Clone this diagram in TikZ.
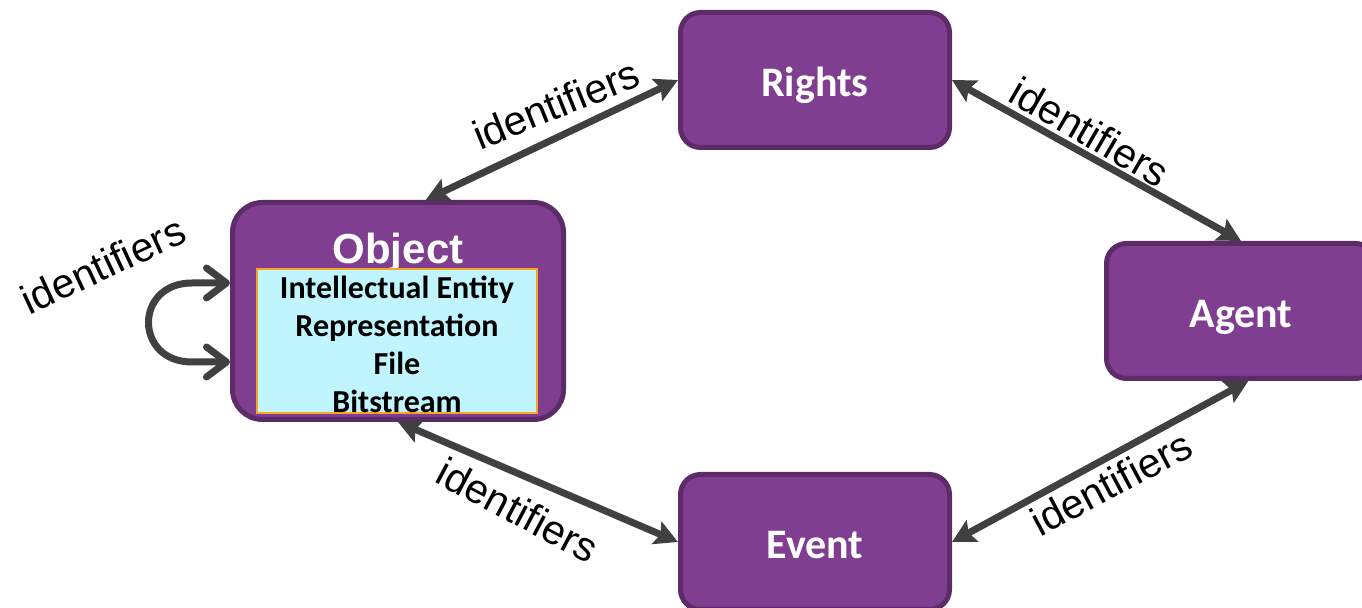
\documentclass[tikz,border=0pt]{standalone}
\usepackage{fontspec}
\setmainfont{Liberation Sans}
\newfontfamily\carlito{Carlito}
\usetikzlibrary{arrows.meta}
\definecolor{boxfill}{RGB}{128,62,145}
\definecolor{boxedge}{RGB}{93,43,103}
\definecolor{linkgray}{RGB}{64,64,64}
\definecolor{innerfill}{RGB}{192,245,253}
\definecolor{inneredge}{RGB}{245,166,35}
\tikzset{
  entity/.style={draw=boxedge, fill=boxfill, line width=2.5pt, rounded corners=10pt,
    minimum width=134.5pt, minimum height=67.5pt, inner sep=0pt, text=white,
    text height=16.5pt, text depth=0pt,
    font=\carlito\bfseries\fontsize{21}{25}\selectfont},
  headtip/.tip={Stealth[length=11.5pt,width=12pt,inset=2pt]},
  barbtip/.tip={Straight Barb[length=10pt,width=15pt,round]},
  link/.style={draw=linkgray, line width=3.5pt, headtip-headtip},
  selflink/.style={draw=linkgray, line width=3.5pt, line cap=round, barbtip-barbtip},
  idlabel/.style={font=\fontsize{20.5}{24}\selectfont, inner sep=0pt}
}
\begin{document}
\begin{tikzpicture}[x=0.5pt, y=-0.5pt]
  \useasboundingbox (0,0) rectangle (1362,608);
  \clip (0,0) rectangle (1362,608);

  % entity boxes
  \node[entity] (rights) at (815,80) {Rights};
  \node[entity] (agent) at (1241,311) {Agent};
  \node[entity] (event) at (815,542) {Event};
  \node[entity, rounded corners=15pt, minimum width=165.5pt, minimum height=108.5pt] (obj) at (398,311) {};
  \node[anchor=base, inner sep=0pt, text=white, font=\bfseries\fontsize{21}{25}\selectfont] (objtitle) at (398,264) {Object};
  \node[draw=inneredge, fill=innerfill, line width=1pt, minimum width=140pt, minimum height=72pt,
        inner sep=0pt, align=center, font=\carlito\bfseries\fontsize{16}{19}\selectfont]
        (kinds) at (397,341.5) {};
  \node[inner sep=0pt, align=center, font=\carlito\bfseries\fontsize{16}{19}\selectfont]
        (kindtext) at (397,344) {Intellectual Entity\\Representation\\File\\Bitstream};

  % connectors
  \draw[link] (obj.76) -- (rights.west);
  \draw[link] (rights.east) -- (agent.north);
  \draw[link] (agent.-84) -- (event.east);
  \draw[link] (obj.south) -- (event.west);

  % self reference loop on the object
  \coordinate (lt) at ([yshift=14pt]obj.west);
  \coordinate (lb) at ([yshift=-25.5pt]obj.west);
  \draw[selflink] (lt) -- ++(-38,0) .. controls +(-58,0) and +(-58,0) .. ([xshift=-19pt]lb) -- (lb);

  % connector labels
  \node[idlabel, rotate=22] (l1) at (556,104) {identifiers};
  \node[idlabel, rotate=-30] (l2) at (1090,132) {identifiers};
  \node[idlabel, rotate=25] (l3) at (103,265) {identifiers};
  \node[idlabel, rotate=-28] (l4) at (518,510) {identifiers};
  \node[idlabel, rotate=28] (l5) at (1111,483) {identifiers};
\end{tikzpicture}
\end{document}
